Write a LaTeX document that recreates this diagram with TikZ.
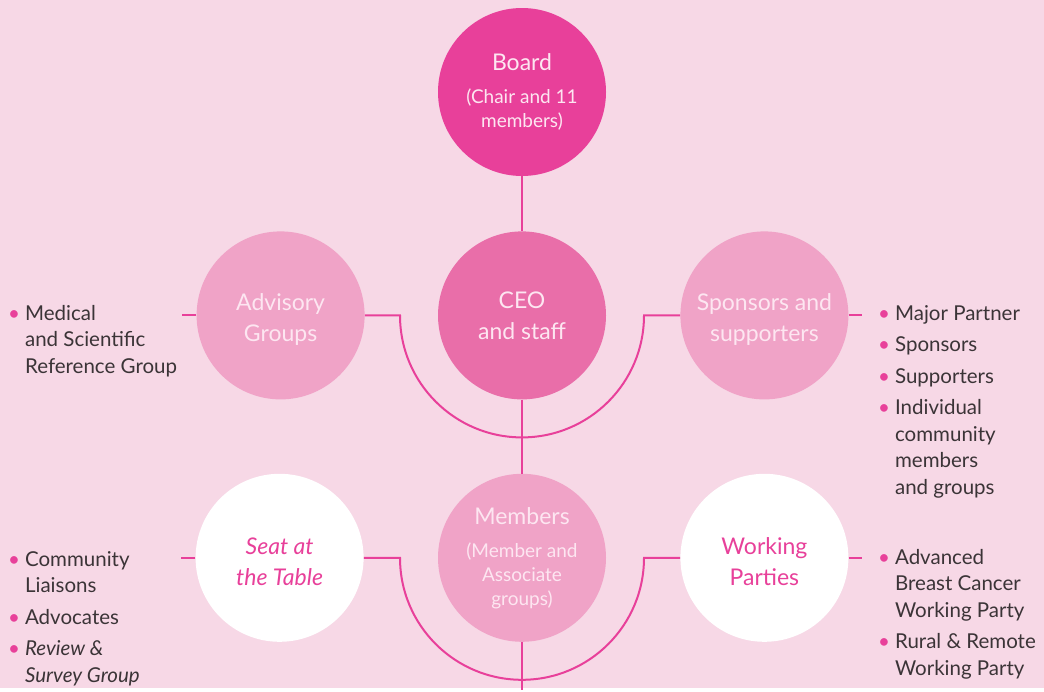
\documentclass[tikz,border=0pt]{standalone}
\usepackage{fontspec}
\setmainfont{Lato}
\usetikzlibrary{positioning}
\definecolor{bgpink}{HTML}{F7D8E6}
\definecolor{boardpink}{HTML}{E8409A}
\definecolor{ceopink}{HTML}{E96EA9}
\definecolor{softpink}{HTML}{F0A3C7}
\definecolor{linkpink}{HTML}{E8409A}
\definecolor{circtext}{HTML}{FDE6F1}
\definecolor{listgrey}{HTML}{3B3437}
\tikzstyle{circ} = [circle, minimum size=168pt, inner sep=0pt, align=center, text=circtext, font=\fontsize{23}{31}\selectfont]
\tikzstyle{small} = [font=\fontsize{19}{24}\selectfont]
\tikzstyle{open} = [circ, fill=white, text=linkpink]
\tikzstyle{link} = [draw=linkpink, line width=2pt]
\tikzstyle{list} = [anchor=base west, inner sep=0pt, text=listgrey, font=\fontsize{20.5}{26.5}\selectfont]
\newcommand{\dotitem}{{\color{linkpink}\textbullet}}
\newcommand{\head}[1]{{\fontsize{23}{24}\selectfont #1}}
% two lines of circle text, set a little below the centre
\newcommand{\lowtext}[2]{\raisebox{-#1}[\height][\depth]{\begin{tabular}{@{}c@{}}#2\end{tabular}}}

\begin{document}
\begin{tikzpicture}[node distance=74pt]
    \fill[bgpink] (0,0) rectangle (1044pt,-688pt);

    \node [circ, fill=boardpink, small] (board) at (522pt,-92pt) {\head{Board}\\[9pt](Chair and 11\\members)};
    \node [circ, fill=ceopink, below=55pt of board] (ceo) {CEO\\and staff};
    \node [circ, fill=softpink, left=73pt of ceo] (advisory) {\lowtext{4pt}{Advisory\\Groups}};
    \node [circ, fill=softpink, right= of ceo] (sponsors) {\lowtext{4pt}{Sponsors and\\supporters}};
    \node [circ, fill=softpink, small, below= of ceo] (members) {\head{Members}\\[9pt](Member and\\Associate\\groups)};
    \node [open, left= of members] (seat) {\lowtext{6pt}{\itshape Seat at\\\itshape the Table}};
    \node [open, right= of members] (working) {\lowtext{6pt}{Working\\Parties}};

    % free ends of the short stubs
    \coordinate [left=14pt of advisory.west] (advstub);
    \coordinate [right=13pt of sponsors.east] (sponstub);
    \coordinate [left=14pt of seat.west] (seatstub);
    \coordinate [right=13pt of working.east] (workstub);
    \coordinate (foot) at ([yshift=-48pt]members.south);

    \draw[link](board) -- (ceo);
    \draw[link](ceo) -- (members);
    \draw[link](members) -- (foot);
    \draw[link](advisory.east) -- ([xshift=-122pt]ceo.center) arc[start angle=180, end angle=360, radius=122pt] -- (sponsors.west);
    \draw[link](seat.east) -- ([xshift=-122pt]members.center) arc[start angle=180, end angle=360, radius=122pt] -- (working.west);
    \draw[link](advisory.west) -- (advstub);
    \draw[link](sponsors.east) -- (sponstub);
    \draw[link](seat.west) -- (seatstub);
    \draw[link](working.east) -- (workstub);

    \node [list] (advlist) at (8pt,-320pt) {\begin{tabular}[t]{@{}l@{\hspace{5pt}}l@{}}
        \dotitem & Medical\\ & and Scientific\\ & Reference Group\end{tabular}};
    \node [list] (sponslist) at (878pt,-320pt) {\begin{tabular}[t]{@{}l@{\hspace{5pt}}l@{}}
        \dotitem & Major Partner\\[5pt] \dotitem & Sponsors\\[5pt] \dotitem & Supporters\\[5pt]
        \dotitem & Individual\\ & community\\ & members\\ & and groups\end{tabular}};
    \node [list] (seatlist) at (8pt,-566pt) {\begin{tabular}[t]{@{}l@{\hspace{5pt}}l@{}}
        \dotitem & Community\\ & Liaisons\\[5pt] \dotitem & Advocates\\[5pt]
        \dotitem & \itshape Review \&\\ & \itshape Survey Group\end{tabular}};
    \node [list] (worklist) at (878pt,-564pt) {\begin{tabular}[t]{@{}l@{\hspace{5pt}}l@{}}
        \dotitem & Advanced\\ & Breast Cancer\\ & Working Party\\[5pt]
        \dotitem & Rural \& Remote\\ & Working Party\end{tabular}};
\end{tikzpicture}
\end{document}
